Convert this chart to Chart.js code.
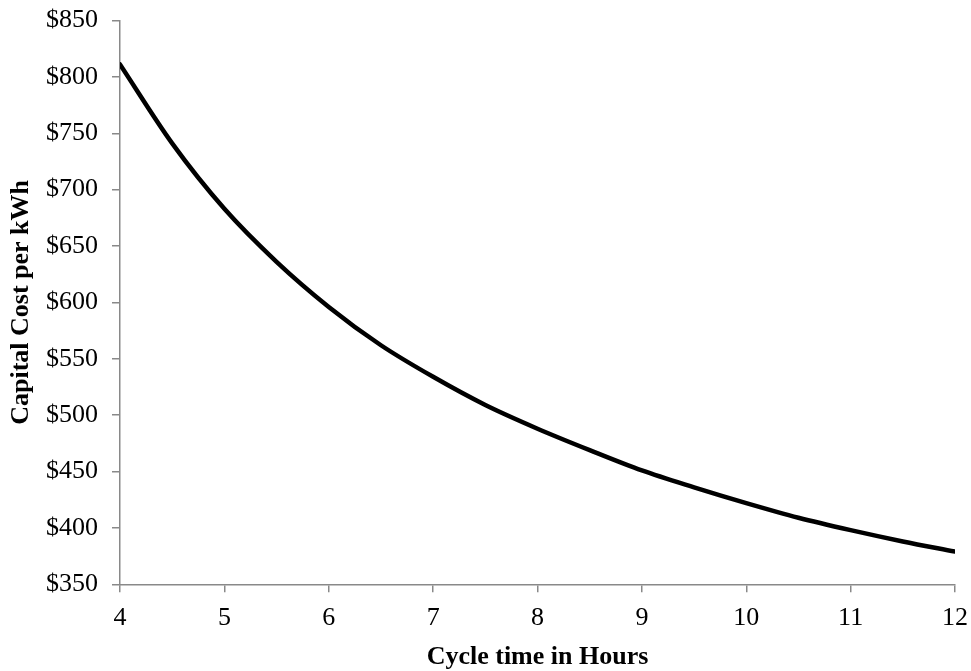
<!DOCTYPE html>
<html>
<head>
<meta charset="utf-8">
<script src="https://cdn.jsdelivr.net/npm/chart.js@4/dist/chart.umd.min.js"></script>
<style>
  html, body { margin: 0; padding: 0; background: #ffffff; }
  #wrap { width: 971px; height: 671px; position: relative; }
</style>
</head>
<body>
<div id="wrap"><canvas id="chart" width="971" height="671"></canvas></div>
<script>
// Cycle time (hours) and the capital cost per kWh at each duration
const cycleHours = [4, 4.5, 5, 5.5, 6, 6.5, 7, 7.5, 8, 8.5, 9, 9.5, 10, 10.5, 11, 11.5, 12];
const costPerKWh = [811, 741, 683, 636, 596, 562, 534, 509, 488, 469, 451, 436, 422, 409, 398, 388, 379];

// Axis ticks
const xTicks = [4, 5, 6, 7, 8, 9, 10, 11, 12];
const yTicks = [350, 400, 450, 500, 550, 600, 650, 700, 750, 800, 850];

const points = cycleHours.map((h, i) => ({ x: h, y: costPerKWh[i] }));

const serif = "'Liberation Serif', 'Times New Roman', 'DejaVu Serif', serif";
const axisGray = '#898989';

// Keep the plot box fixed: the layout padding alone sets the outer margins.
function fixBox(size) {
  return (scale) => {
    if (scale.isHorizontal()) { scale.height = size; } else { scale.width = size; }
    scale.paddingTop = 0;
    scale.paddingBottom = 0;
    scale.paddingLeft = 0;
    scale.paddingRight = 0;
  };
}

new Chart(document.getElementById('chart'), {
  type: 'line',
  data: {
    datasets: [{
      data: points,
      borderColor: '#000000',
      borderWidth: 4.5,
      borderCapStyle: 'round',
      pointRadius: 0,
      pointHoverRadius: 0,
      fill: false,
      cubicInterpolationMode: 'monotone'
    }]
  },
  options: {
    responsive: false,
    animation: false,
    events: [],
    layout: { padding: { left: 0, top: 20.5, right: 16, bottom: 0 } },
    plugins: {
      legend: { display: false },
      tooltip: { enabled: false }
    },
    scales: {
      x: {
        type: 'linear',
        min: 4,
        max: 12,
        afterBuildTicks: (scale) => { scale.ticks = xTicks.map(v => ({ value: v })); },
        afterFit: fixBox(86.7),
        ticks: {
          color: '#000000',
          padding: 10,
          font: { family: serif, size: 26 },
          callback: (v) => String(v)
        },
        grid: {
          display: true,
          drawOnChartArea: false,
          drawTicks: true,
          tickLength: 8,
          color: axisGray,
          lineWidth: 1.5
        },
        border: { display: true, color: axisGray, width: 1.5 },
        title: {
          display: true,
          text: 'Cycle time in Hours',
          color: '#000000',
          font: { family: serif, size: 26, weight: 'bold' },
          padding: { top: 0, bottom: -2 }
        }
      },
      y: {
        type: 'linear',
        min: 350,
        max: 850,
        afterBuildTicks: (scale) => { scale.ticks = yTicks.map(v => ({ value: v })); },
        afterFit: fixBox(120),
        ticks: {
          color: '#000000',
          padding: 14,
          font: { family: serif, size: 26 },
          callback: (v) => '$' + v
        },
        grid: {
          display: true,
          drawOnChartArea: false,
          drawTicks: true,
          tickLength: 8,
          color: axisGray,
          lineWidth: 1.5
        },
        border: { display: true, color: axisGray, width: 1.5 },
        title: {
          display: true,
          text: 'Capital Cost per kWh',
          color: '#000000',
          font: { family: serif, size: 26, weight: 'bold' },
          padding: { top: 6, bottom: 0 }
        }
      }
    }
  }
});
</script>
</body>
</html>
